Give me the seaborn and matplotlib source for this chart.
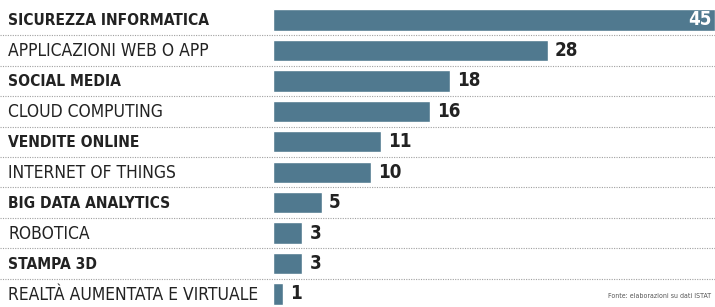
import matplotlib
matplotlib.use("Agg")
import matplotlib.pyplot as plt
import seaborn as sns
import pandas as pd

categories = ["SICUREZZA INFORMATICA", "APPLICAZIONI WEB O APP", "SOCIAL MEDIA",
              "CLOUD COMPUTING", "VENDITE ONLINE", "INTERNET OF THINGS",
              "BIG DATA ANALYTICS", "ROBOTICA", "STAMPA 3D",
              "REALTÀ AUMENTATA E VIRTUALE"]
values = [45, 28, 18, 16, 11, 10, 5, 3, 3, 1]
source = "Fonte: elaborazioni su dati ISTAT"

df = pd.DataFrame({"cat": categories, "val": values})

sns.set_theme(style="white")
plt.rcParams["font.family"] = ["DejaVu Sans"]
plt.rcParams["font.stretch"] = "condensed"

fig = plt.figure(figsize=(7.15, 3.07), dpi=100)
ax = fig.add_axes([0, 0, 1, 1])
bar_color = "#50798f"
sns.barplot(data=df, x="val", y="cat", color=bar_color, width=0.7,
            saturation=1, ax=ax)

ax.set_xlim(-273 * 45 / 442, 45)
ax.set_ylim(9.43, -0.657)
ax.axis("off")

# dotted separators
for i in range(len(categories) - 1):
    ax.axhline(i + 0.5, color="#a0a0a0", lw=0.8, ls=(0, (1, 1.2)))

x0 = ax.get_xlim()[0] + 8 * 45 / 442
for i, (c, v) in enumerate(zip(categories, values)):
    bold = i % 2 == 0
    ax.text(x0, i + 0.03, c, va="center", ha="left",
            fontsize=11.2 if bold else 12.5,
            fontweight="bold" if bold else "normal", color="#222222",
            fontstretch="condensed")
    if v == max(values):
        ax.text(v - 0.3, i, str(v), va="center", ha="right", fontsize=13.5,
                fontweight="bold", color="white", fontstretch="condensed")
    else:
        ax.text(v + 0.7, i, str(v), va="center", ha="left", fontsize=13.5,
                fontweight="bold", color="#222222", fontstretch="condensed")

fig.text(0.995, 0.025, source, ha="right", va="bottom", fontsize=5,
         color="#555555")

fig.savefig("out.png", dpi=100)
